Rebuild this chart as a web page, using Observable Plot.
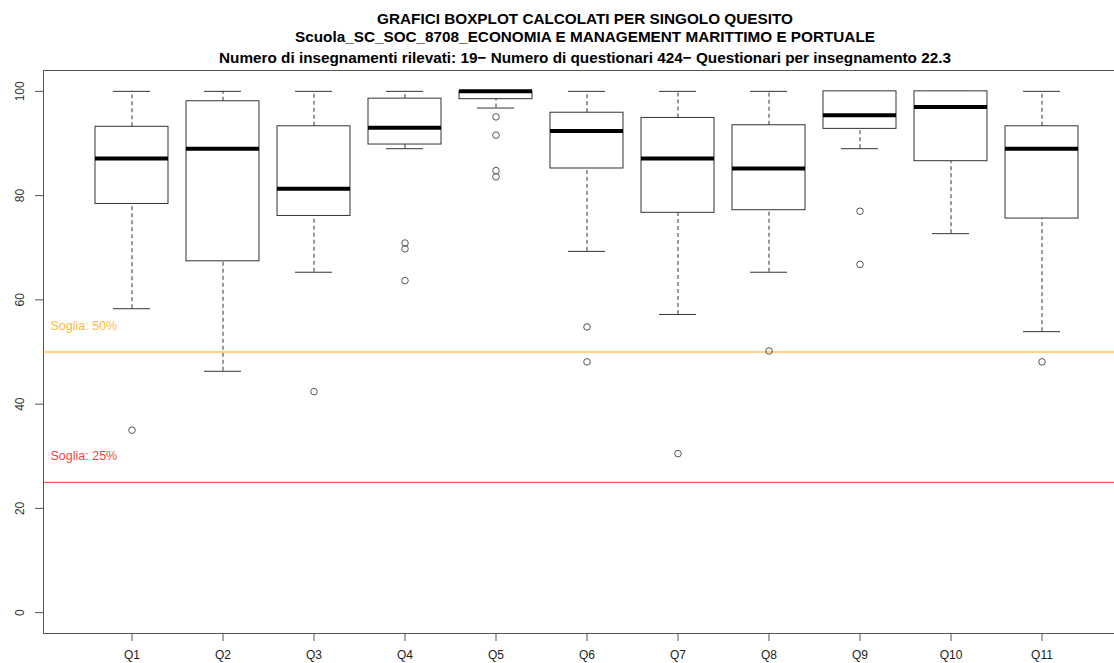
<!DOCTYPE html>
<html>
<head>
<meta charset="utf-8">
<script src="https://cdn.jsdelivr.net/npm/d3@7"></script>
<script src="https://cdn.jsdelivr.net/npm/@observablehq/plot@0.6"></script>
<style>
  html, body { margin: 0; padding: 0; background: #fff; overflow: hidden; width: 1114px; height: 663px; }
  #wrap { position: relative; width: 1132px; height: 663px; }
  #titles { position: relative; height: 66px; width: 1132px; }
  .t { position: absolute; left: 0; width: 1170px; text-align: center; font-family: "Liberation Sans", Arial, sans-serif; font-weight: bold; font-size: 15.3px; line-height: 15.3px; color: #000; white-space: nowrap; }
  #chart svg { display: block; }
</style>
</head>
<body>
<div id="wrap">
  <div id="titles">
    <div class="t" id="t1" style="top:11px"></div>
    <div class="t" id="t2" style="top:28.5px"></div>
    <div class="t" id="t3" style="top:49.5px"></div>
  </div>
  <div id="chart"></div>
</div>
<script>
// ---- data ----
const titleLines = [
  "GRAFICI BOXPLOT CALCOLATI PER SINGOLO QUESITO",
  "Scuola_SC_SOC_8708_ECONOMIA E MANAGEMENT MARITTIMO E PORTUALE",
  "Numero di insegnamenti rilevati: 19\u2212 Numero di questionari 424\u2212 Questionari per insegnamento 22.3"
];
const questions     = ["Q1","Q2","Q3","Q4","Q5","Q6","Q7","Q8","Q9","Q10","Q11"];
const lowerWhisker  = [58.3, 46.3, 65.3, 89.0, 96.8, 69.3, 57.2, 65.3, 89.0, 72.7, 53.9];
const firstQuartile = [78.4, 67.4, 76.1, 89.8, 98.5, 85.2, 76.7, 77.2, 92.8, 86.6, 75.6];
const medianValue   = [87.1, 89.0, 81.3, 93.0, 100.0, 92.4, 87.1, 85.2, 95.4, 97.0, 89.0];
const thirdQuartile = [93.2, 98.1, 93.3, 98.6, 100.0, 95.9, 94.9, 93.5, 100.0, 100.0, 93.3];
const upperWhisker  = [100, 100, 100, 100, 100, 100, 100, 100, 100, 100, 100];
const outlierQuestion = ["Q1","Q3","Q4","Q4","Q4","Q5","Q5","Q5","Q5","Q6","Q6","Q7","Q8","Q9","Q9","Q11"];
const outlierValue    = [35.0, 42.4, 70.9, 69.8, 63.7, 95.1, 91.6, 84.8, 83.6, 54.8, 48.1, 30.5, 50.2, 77.0, 66.8, 48.1];
const thresholds      = [50, 25];
const thresholdLabels = ["Soglia: 50%", "Soglia: 25%"];
const thresholdColors = ["#FFA500", "#FF0000"];
const yTicks = [0, 20, 40, 60, 80, 100];

// ---- tables ----
const boxes = questions.map((q, i) => ({
  q, lo: lowerWhisker[i], q1: firstQuartile[i], med: medianValue[i], q3: thirdQuartile[i], hi: upperWhisker[i]
}));
const outliers = outlierQuestion.map((q, i) => ({q, v: outlierValue[i]}));
const thr = thresholds.map((v, i) => ({v, label: thresholdLabels[i], color: thresholdColors[i], ly: v + 5}));

document.getElementById("t1").textContent = titleLines[0];
document.getElementById("t2").textContent = titleLines[1];
document.getElementById("t3").textContent = titleLines[2];

const chart = Plot.plot({
  width: 1132,
  height: 597,
  marginLeft: 43,
  marginRight: 3,
  marginTop: 4,
  marginBottom: 30,
  style: {fontFamily: "'Liberation Sans', Arial, sans-serif", fontSize: "12px", color: "#222", background: "#fff", overflow: "visible"},
  x: {type: "band", domain: questions, paddingInner: 0.2, paddingOuter: 0.54, align: 0.5},
  y: {domain: [-4, 104]},
  marks: [
    Plot.frame({stroke: "#555", strokeWidth: 1}),
    Plot.axisY(yTicks, {tickSize: 8, tickFormat: () => "", label: null, stroke: "#555"}),
    Plot.text(yTicks, {y: d => d, text: d => String(d), frameAnchor: "left", dx: -23, rotate: -90,
      textAnchor: "middle", lineAnchor: "middle", fontSize: 12, fill: "#333"}),
    Plot.axisX({tickSize: 8, tickPadding: 9, label: null, fontSize: 12, stroke: "#555", fill: "#222"}),
    // threshold lines
    Plot.ruleY(thr, {y: "v", stroke: "color", strokeWidth: 1.3, strokeOpacity: 0.65}),
    Plot.text(thr, {y: "ly", text: "label", fill: "color", fillOpacity: 0.8, frameAnchor: "left", dx: 7,
      textAnchor: "start", lineAnchor: "middle", fontSize: 12.5}),
    // whiskers
    Plot.ruleX(boxes, {x: "q", y1: "q3", y2: "hi", stroke: "#333", strokeDasharray: "4,3"}),
    Plot.ruleX(boxes, {x: "q", y1: "lo", y2: "q1", stroke: "#333", strokeDasharray: "4,3"}),
    Plot.tickY(boxes, {x: "q", y: "hi", stroke: "#333", insetLeft: 18, insetRight: 18}),
    Plot.tickY(boxes, {x: "q", y: "lo", stroke: "#333", insetLeft: 18, insetRight: 18}),
    // boxes
    Plot.barY(boxes, {x: "q", y1: "q1", y2: "q3", fill: "#fff", stroke: "#333", strokeWidth: 1}),
    Plot.tickY(boxes, {x: "q", y: "med", stroke: "#000", strokeWidth: 4}),
    // outliers
    Plot.dot(outliers, {x: "q", y: "v", r: 3.3, stroke: "#555", strokeWidth: 1, fill: "none"})
  ]
});
document.getElementById("chart").appendChild(chart);
</script>
</body>
</html>
